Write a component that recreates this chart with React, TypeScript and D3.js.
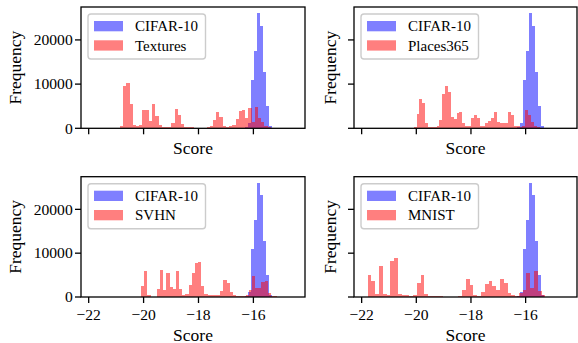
import React from "react";
import * as d3 from "d3";

// ---------- data ----------
const xTicks = [-22, -20, -18, -16];
const yTicks = [0, 10000, 20000];
const xDomain: [number, number] = [-22.28, -14.12];
const yMax = 27450;

const inLabel = "CIFAR-10";
const oodNames = ["Textures", "Places365", "SVHN", "MNIST"];

// in-distribution histogram (same in all panels)
const cifarStart = -16.427;
const cifarWidth = 0.1093;
const cifarCounts = [100, 300, 1200, 11000, 17500, 26000, 23200, 12700, 5100, 500, 100, 30];

// out-of-distribution histograms
const texturesStart = -20.859;
const texturesWidth = 0.1169;
const texturesCounts = [
  500, 9600, 10300, 5600, 760, 600, 760, 4200, 4200, 1700, 5600, 2700, 760, 400, 400, 400,
  1100, 4400, 3000, 1000, 400, 300, 300, 100, 50, 50, 100, 300, 500, 1900, 3700, 2500,
  600, 400, 600, 700, 2000, 3900, 4200, 2400, 4500, 1500, 4900, 2400, 1500, 600, 350, 100,
];

const placesStart = -20.097;
const placesWidth = 0.1048;
const placesCounts = [
  400, 3300, 6700, 5800, 1300, 400, 400, 400, 600, 1900, 7700, 9500, 8300, 2600, 2200, 3400,
  3800, 1300, 600, 600, 2400, 3000, 2300, 600, 600, 1100, 1700, 2300, 3700, 1400, 1100, 1300,
  1300, 3700, 3000, 600, 450, 300, 600, 4200, 3000, 1500, 600, 200, 100,
];

const svhnStart = -20.094;
const svhnWidth = 0.1154;
const svhnCounts = [
  2500, 5900, 400, 0, 0, 1800, 6100, 1600, 5500, 2300, 1800, 5900, 1800, 400, 700, 2700,
  5500, 7700, 7900, 2500, 600, 450, 450, 450, 500, 1400, 3900, 3300, 1100, 400, 200, 150,
  200, 450, 1600, 4800, 2000, 2000, 3500, 3600, 1000, 200, 150,
];

const mnistStart = -21.78;
const mnistWidth = 0.1383;
const mnistCounts = [
  5000, 3600, 600, 7000, 700, 400, 8200, 8900, 700, 400, 400, 250, 400, 3300, 5000, 700,
  250, 250, 250, 250, 0, 0, 0, 0, 200, 1600, 4100, 2700, 450, 300, 1100, 3000,
  3600, 2500, 1500, 4100, 3100, 900, 450, 300, 800, 1600, 5500, 2100, 5900, 1400, 450,
];

const oodStarts = [texturesStart, placesStart, svhnStart, mnistStart];
const oodWidths = [texturesWidth, placesWidth, svhnWidth, mnistWidth];
const oodCounts = [texturesCounts, placesCounts, svhnCounts, mnistCounts];

// ---------- layout ----------
const W = 578;
const H = 343;
const FONT = '"Liberation Serif", "DejaVu Serif", serif';
const BLUE = "rgba(0,0,255,0.5)";
const RED = "rgba(255,0,0,0.5)";

type Box = { left: number; right: number; top: number; bottom: number };
const boxes: Box[] = [
  { left: 81, right: 305, top: 7, bottom: 128.3 },
  { left: 354, right: 577, top: 7, bottom: 128.3 },
  { left: 81, right: 305, top: 176.7, bottom: 297 },
  { left: 354, right: 577, top: 176.7, bottom: 297 },
];

const fmtTick = (v: number) => (v < 0 ? "\u2212" + Math.abs(v) : String(v));

function Hist({ start, width, counts, x, y, color }: any) {
  const y0 = y(0);
  return (
    <g shapeRendering="crispEdges">
      {counts.map((c: number, i: number) => {
        if (c <= 0) return null;
        const a = x(start + i * width);
        const b = x(start + (i + 1) * width);
        const t = y(c);
        return <rect key={i} x={a} y={t} width={b - a} height={y0 - t} fill={color} />;
      })}
    </g>
  );
}

function Panel({ idx }: { idx: number }) {
  const bx = boxes[idx];
  const x = d3.scaleLinear().domain(xDomain).range([bx.left, bx.right]);
  const y = d3.scaleLinear().domain([0, yMax]).range([bx.bottom, bx.top]);
  const showXLabels = idx >= 2;
  const showYLabels = idx % 2 === 0;
  const cx = (bx.left + bx.right) / 2;
  const cy = (bx.top + bx.bottom) / 2;
  const lx = bx.left + 7;
  const ly = bx.top + 7;
  return (
    <g style={{ fontFamily: FONT }}>
      <Hist start={cifarStart} width={cifarWidth} counts={cifarCounts} x={x} y={y} color={BLUE} />
      <Hist start={oodStarts[idx]} width={oodWidths[idx]} counts={oodCounts[idx]} x={x} y={y} color={RED} />
      {/* spines */}
      <rect
        x={bx.left}
        y={bx.top}
        width={bx.right - bx.left}
        height={bx.bottom - bx.top}
        fill="none"
        stroke="#000"
        strokeWidth={1.3}
      />
      {/* x ticks */}
      {xTicks.map((t) => (
        <g key={"x" + t}>
          <line x1={x(t)} x2={x(t)} y1={bx.bottom} y2={bx.bottom + 6} stroke="#000" strokeWidth={1.3} />
          {showXLabels && (
            <text x={x(t)} y={bx.bottom + 23} textAnchor="middle" fontSize={15.6} fill="#000">
              {fmtTick(t)}
            </text>
          )}
        </g>
      ))}
      {/* y ticks */}
      {yTicks.map((t) => (
        <g key={"y" + t}>
          <line x1={bx.left - 6} x2={bx.left} y1={y(t)} y2={y(t)} stroke="#000" strokeWidth={1.3} />
          {showYLabels && (
            <text x={bx.left - 8.3} y={y(t) + 5.2} textAnchor="end" fontSize={15.6} fill="#000">
              {fmtTick(t)}
            </text>
          )}
        </g>
      ))}
      {/* axis labels */}
      <text x={cx} y={idx < 2 ? 154 : 340.5} textAnchor="middle" fontSize={17.5} fill="#000">
        Score
      </text>
      <text
        transform={`translate(${bx.left - (idx % 2 === 0 ? 60.5 : 18)},${cy}) rotate(-90)`}
        textAnchor="middle"
        fontSize={17.5}
        fill="#000"
      >
        Frequency
      </text>
      {/* legend */}
      <rect x={lx} y={ly} width={117.5} height={45} rx={3} fill="rgba(255,255,255,0.8)" stroke="#cccccc" strokeWidth={1.4} />
      <rect x={bx.left + 13} y={bx.top + 14} width={29} height={10.3} fill={BLUE} />
      <rect x={bx.left + 13} y={bx.top + 33.3} width={29} height={10.3} fill={RED} />
      <text x={bx.left + 54} y={bx.top + 23.8} fontSize={15} fill="#000">
        {inLabel}
      </text>
      <text x={bx.left + 54} y={bx.top + 43.6} fontSize={15} fill="#000">
        {oodNames[idx]}
      </text>
    </g>
  );
}

export default function App() {
  return (
    <svg
      width={W}
      height={H}
      viewBox={`0 0 ${W} ${H}`}
      style={{ position: "absolute", left: 0, top: 0, background: "#fff" }}
    >
      <rect x={0} y={0} width={W} height={H} fill="#fff" />
      {[0, 1, 2, 3].map((i) => (
        <Panel key={i} idx={i} />
      ))}
    </svg>
  );
}
